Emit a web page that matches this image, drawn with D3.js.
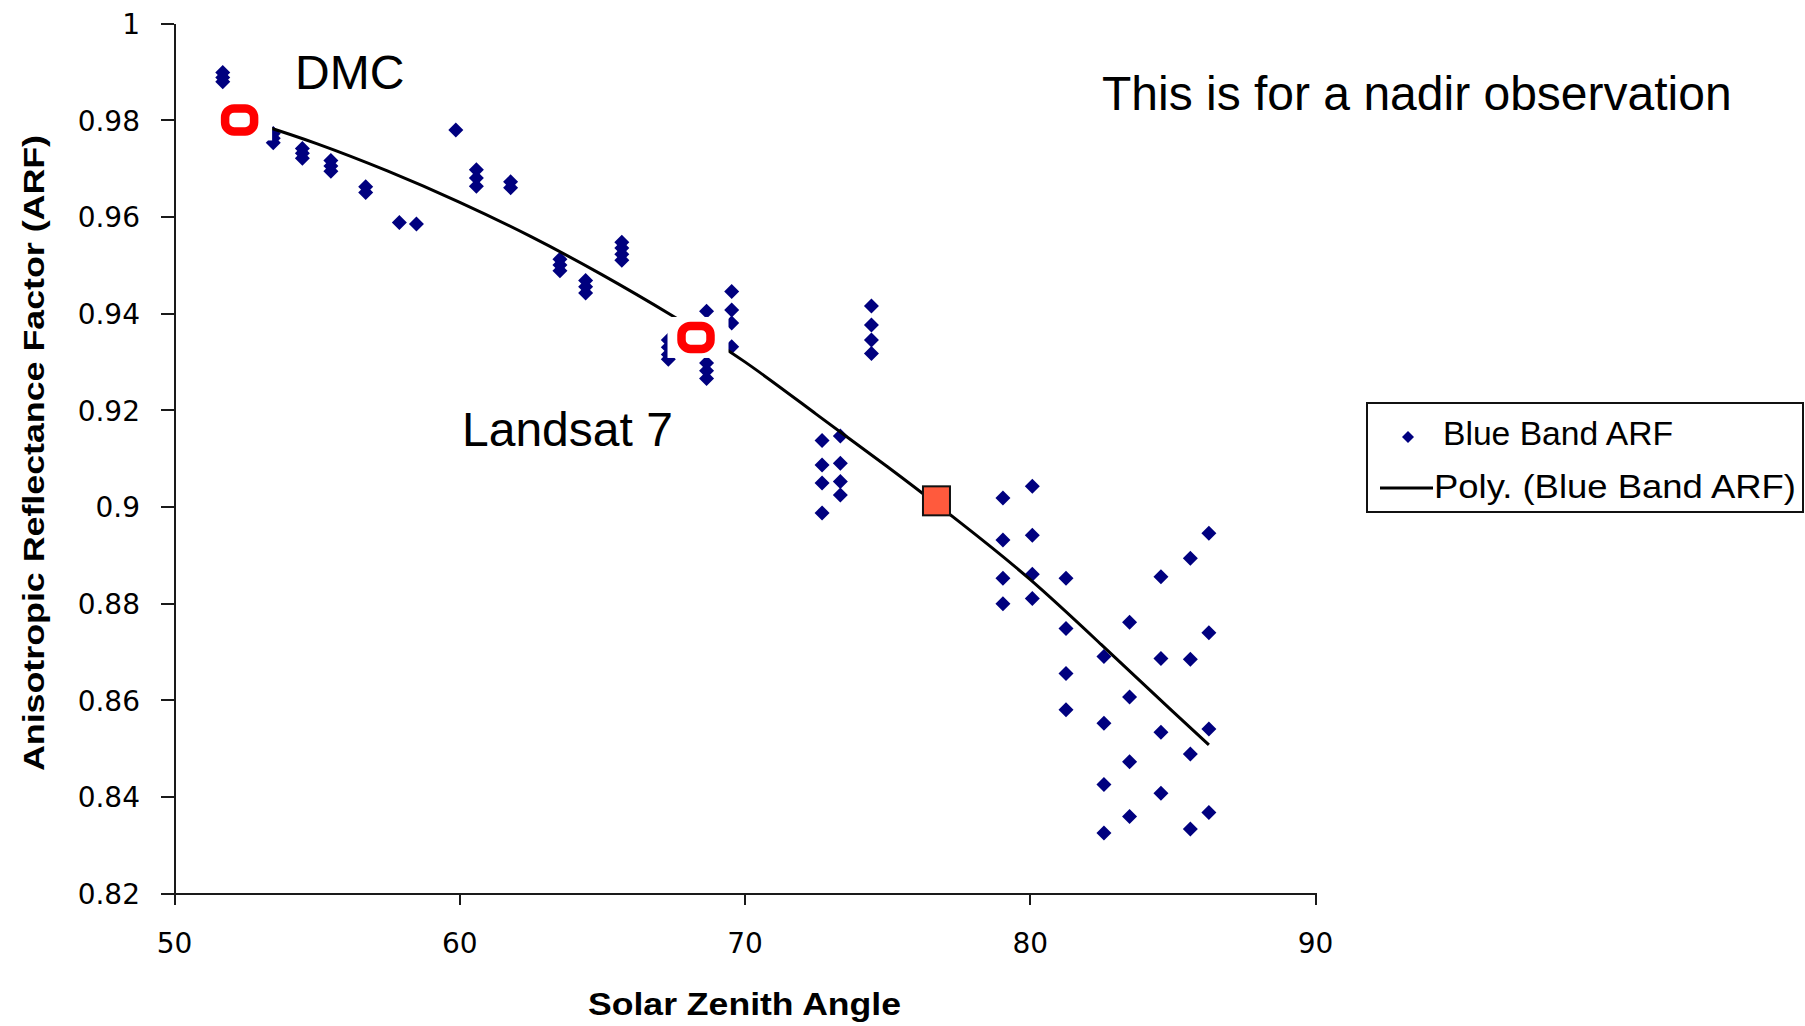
<!DOCTYPE html>
<html>
<head>
<meta charset="utf-8">
<script src="https://cdn.jsdelivr.net/npm/d3@7"></script>
<style>
  html, body { margin: 0; padding: 0; background: #fff; }
  svg { display: block; }
  .axis path, .axis line { stroke: #1a1a1a; stroke-width: 2; shape-rendering: crispEdges; }
  .axis text { font-family: "DejaVu Sans", sans-serif; font-size: 28px; fill: #000; }
</style>
</head>
<body>
<svg id="chart" width="1805" height="1026"></svg>
<script>
// Solar zenith angle (deg) of each Blue Band ARF sample
const sza = [
  51.71, 51.71, 51.71,
  53.48, 53.48, 53.48,
  54.50, 54.50, 54.50,
  55.50, 55.50, 55.50,
  56.72, 56.72,
  57.90, 58.50, 59.88,
  60.60, 60.60, 60.60,
  61.80, 61.80,
  63.53, 63.53, 63.53,
  64.43, 64.43, 64.43,
  65.70, 65.70, 65.70, 65.70,
  67.33, 67.33, 67.33, 67.33,
  68.67, 68.67, 68.67, 68.67,
  69.55, 69.55, 69.55, 69.55,
  72.72, 72.72, 72.72, 72.72,
  73.36, 73.36, 73.36, 73.36,
  74.45, 74.45, 74.45, 74.45,
  79.06, 79.06, 79.06, 79.06,
  80.09, 80.09, 80.09, 80.09,
  81.27, 81.27, 81.27, 81.27,
  82.60, 82.60, 82.60, 82.60,
  83.50, 83.50, 83.50, 83.50,
  84.60, 84.60, 84.60, 84.60,
  85.63, 85.63, 85.63, 85.63,
  86.28, 86.28, 86.28, 86.28
];
// Anisotropic reflectance factor, blue band
const blueArf = [
  0.9898, 0.9888, 0.9879,
  0.9772, 0.9762, 0.9753,
  0.9741, 0.9731, 0.9721,
  0.9716, 0.9705, 0.9694,
  0.9662, 0.9650,
  0.9588, 0.9585, 0.9779,
  0.9697, 0.9680, 0.9663,
  0.9672, 0.9660,
  0.9512, 0.9500, 0.9488,
  0.9468, 0.9455, 0.9442,
  0.9547, 0.9535, 0.9522, 0.9510,
  0.9345, 0.9330, 0.9315, 0.9305,
  0.9404, 0.9297, 0.9281, 0.9265,
  0.9445, 0.9407, 0.9380, 0.9331,
  0.9137, 0.9086, 0.9049, 0.8987,
  0.9146, 0.9090, 0.9052, 0.9024,
  0.9415, 0.9376, 0.9345, 0.9317,
  0.9018, 0.8931, 0.8852, 0.8799,
  0.9042, 0.8941, 0.8860, 0.8810,
  0.8852, 0.8748, 0.8655, 0.8580,
  0.8690, 0.8552, 0.8425, 0.8325,
  0.8761, 0.8606, 0.8472, 0.8359,
  0.8855, 0.8686, 0.8533, 0.8407,
  0.8893, 0.8684, 0.8488, 0.8333,
  0.8945, 0.8739, 0.8540, 0.8367
];

// Polynomial trend of the blue band ARF, sampled along the angle range
const trendSza = [51.71, 53.13, 55, 57.5, 60, 62.5, 65, 67.5, 70, 72.5, 75, 77.5, 80, 82.5, 85, 86.28];
const trendArf = [0.9814, 0.9788, 0.9751, 0.9694, 0.9630, 0.9559, 0.9480, 0.9394, 0.9300, 0.9192, 0.9083, 0.8970, 0.8850, 0.8715, 0.8577, 0.8507];

// Sensor overpass markers (ring) and the highlighted point (square)
const sensorNames = ["DMC", "Landsat 7"];
const sensorSza = [52.3, 68.3];
const sensorArf = [0.980, 0.935];
const highlightSza = [76.73];
const highlightArf = [0.9012];

// Axis ticks
const xTickValues = [50, 60, 70, 80, 90];
const yTickValues = [0.82, 0.84, 0.86, 0.88, 0.9, 0.92, 0.94, 0.96, 0.98, 1];
const yTickLabels = ["0.82", "0.84", "0.86", "0.88", "0.9", "0.92", "0.94", "0.96", "0.98", "1"];

const seriesName = "Blue Band ARF";
const trendName = "Poly. (Blue Band ARF)";
const noteText = "This is for a nadir observation";
const xTitle = "Solar Zenith Angle";
const yTitle = "Anisotropic Reflectance Factor (ARF)";

const svg = d3.select("#chart");
const font = "'Liberation Sans', Arial, sans-serif";
const navy = "#00007f";

svg.append("rect").attr("width", 1805).attr("height", 1026).attr("fill", "#fff");

const x = d3.scaleLinear().domain([50, 90]).range([174, 1315]);
const y = d3.scaleLinear().domain([0.82, 1]).range([893.3, 23.3]);

// Axes
svg.append("g")
  .attr("class", "axis")
  .attr("transform", `translate(${x.range()[0]},0)`)
  .call(d3.axisLeft(y).tickValues(yTickValues)
    .tickFormat((d, i) => yTickLabels[i])
    .tickSize(13).tickSizeOuter(0).tickPadding(21))
  .call(g => g.selectAll("text").attr("dy", "0.36em"));

svg.append("g")
  .attr("class", "axis")
  .attr("transform", `translate(0,${y.range()[0]})`)
  .call(d3.axisBottom(x).tickValues(xTickValues)
    .tickFormat(d3.format("d"))
    .tickSize(12).tickSizeOuter(0).tickPadding(28));

// Axis titles
svg.append("text")
  .attr("x", (x.range()[0] + x.range()[1]) / 2)
  .attr("y", 1015)
  .attr("text-anchor", "middle")
  .attr("font-family", font).attr("font-weight", "bold").attr("font-size", 31)
  .attr("textLength", 313).attr("lengthAdjust", "spacingAndGlyphs")
  .text(xTitle);

svg.append("text")
  .attr("transform", "translate(44,453) rotate(-90)")
  .attr("text-anchor", "middle")
  .attr("font-family", font).attr("font-weight", "bold").attr("font-size", 30)
  .attr("textLength", 636).attr("lengthAdjust", "spacingAndGlyphs")
  .text(yTitle);

// Scatter: diamond markers
const diamond = r => `M0,${-r}L${r},0L0,${r}L${-r},0Z`;
svg.append("g")
  .selectAll("path")
  .data(sza.map((a, i) => [a, blueArf[i]]))
  .join("path")
  .attr("transform", d => `translate(${x(d[0])},${y(d[1])})`)
  .attr("d", diamond(7.5))
  .attr("fill", navy);

// Trend line
const line = d3.line()
  .x((d, i) => x(trendSza[i]))
  .y((d, i) => y(trendArf[i]))
  .curve(d3.curveNatural);
svg.append("path")
  .datum(trendSza)
  .attr("d", line)
  .attr("fill", "none")
  .attr("stroke", "#000")
  .attr("stroke-width", 3);

// Sensor rings with their white backing
const ringW = 29, ringH = 23;
const rings = svg.append("g");
sensorSza.forEach((a, i) => {
  const cx = x(a), cy = y(sensorArf[i]);
  rings.append("rect")
    .attr("x", cx - ringW / 2 - 14).attr("y", cy - ringH / 2 - 9)
    .attr("width", ringW + 32).attr("height", ringH + 18)
    .attr("fill", "#fff");
  rings.append("rect")
    .attr("x", cx - ringW / 2).attr("y", cy - ringH / 2)
    .attr("width", ringW).attr("height", ringH)
    .attr("rx", 9).attr("ry", 9)
    .attr("fill", "#fff")
    .attr("stroke", "#ff0000")
    .attr("stroke-width", 8.5);
});

// Highlighted point
svg.append("g")
  .selectAll("rect")
  .data(highlightSza.map((a, i) => [a, highlightArf[i]]))
  .join("rect")
  .attr("x", d => x(d[0]) - 13.5)
  .attr("y", d => y(d[1]) - 14.5)
  .attr("width", 27).attr("height", 29)
  .attr("fill", "#ff5a3d")
  .attr("stroke", "#111")
  .attr("stroke-width", 2);

// Labels
const labelPos = [[295, 89], [462, 446]];
sensorNames.forEach((n, i) => {
  svg.append("text")
    .attr("x", labelPos[i][0]).attr("y", labelPos[i][1])
    .attr("font-family", font).attr("font-size", 48)
    .text(n);
});
svg.append("text")
  .attr("x", 1102).attr("y", 110)
  .attr("font-family", font).attr("font-size", 48)
  .text(noteText);

// Legend
const lg = svg.append("g");
lg.append("rect")
  .attr("x", 1367).attr("y", 403)
  .attr("width", 436).attr("height", 109)
  .attr("fill", "#fff").attr("stroke", "#111").attr("stroke-width", 2);
lg.append("path")
  .attr("transform", "translate(1408,437)")
  .attr("d", diamond(6))
  .attr("fill", navy);
lg.append("text")
  .attr("x", 1443).attr("y", 445)
  .attr("font-family", font).attr("font-size", 33)
  .attr("textLength", 230).attr("lengthAdjust", "spacingAndGlyphs")
  .text(seriesName);
lg.append("line")
  .attr("x1", 1380).attr("x2", 1433).attr("y1", 488).attr("y2", 488)
  .attr("stroke", "#000").attr("stroke-width", 3);
lg.append("text")
  .attr("x", 1434).attr("y", 498)
  .attr("font-family", font).attr("font-size", 33)
  .attr("textLength", 362).attr("lengthAdjust", "spacingAndGlyphs")
  .text(trendName);
</script>
</body>
</html>
